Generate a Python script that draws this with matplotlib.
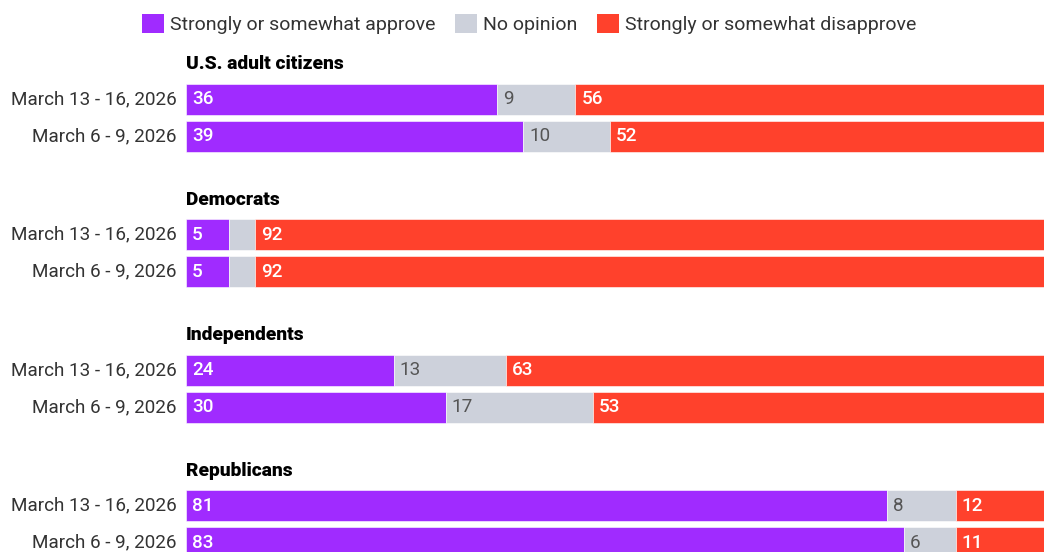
import matplotlib
matplotlib.use("Agg")
from matplotlib import pyplot as plt
from matplotlib.patches import Patch

plt.rcParams["font.family"] = ["Roboto", "DejaVu Sans"]

groups = ["U.S. adult citizens", "Democrats", "Independents", "Republicans"]
periods = ["March 13 - 16, 2026", "March 6 - 9, 2026"]
approve = [[36, 39], [5, 5], [24, 30], [81, 83]]
no_opinion = [[9, 10], [3, 3], [13, 17], [8, 6]]
disapprove = [[56, 52], [92, 92], [63, 53], [12, 11]]

series_names = ["Strongly or somewhat approve", "No opinion", "Strongly or somewhat disapprove"]
colors = ["#a02bff", "#cdd1db", "#ff412c"]
text_colors = ["white", "#555555", "white"]

W, H = 1044, 552
fig = plt.figure(figsize=(W / 100, H / 100), dpi=100)
left = 186
ax = fig.add_axes([left / W, 0, (W - left) / W, 1])
ax.set_xlim(0, (W - left) / 8.65)
ax.set_ylim(H, 0)  # pixel-like units, top down
ax.axis("off")

group_step = 135.6
first_title = 64
bar_h = 31
fs = 13.6

for g, name in enumerate(groups):
    ty = first_title + g * group_step
    ax.text(0, ty, name, fontsize=13.8, fontweight="black", color="black", va="center", ha="left")
    for r, period in enumerate(periods):
        y = ty + 35 + r * 37
        vals = [approve[g][r], no_opinion[g][r], disapprove[g][r]]
        start = 0
        for s, v in enumerate(vals):
            ax.barh(y, v, left=start, height=bar_h, color=colors[s], edgecolor="white", linewidth=0.4)
            if v >= 5:
                ax.text(start + 0.7, y, str(v), color=text_colors[s], fontsize=fs,
                        va="center", ha="left", fontweight="medium" if s != 1 else "normal")
            start += v
        ax.text(-1.1, y, period, fontsize=fs, color="#333333", va="center", ha="right", clip_on=False)

handles = [Patch(facecolor=c, edgecolor="none") for c in colors]
fig.legend(handles, series_names, loc="upper center", bbox_to_anchor=(0.507, 1.007), ncol=3,
           frameon=False, fontsize=14, handlelength=1.15, handleheight=1.15,
           handletextpad=0.3, columnspacing=1.0, labelcolor="#333333")

fig.savefig("out.png", dpi=100)
